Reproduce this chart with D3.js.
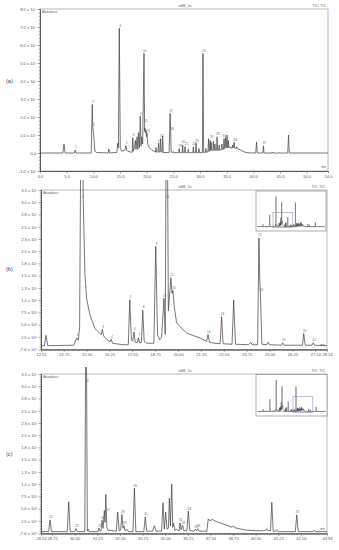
<!DOCTYPE html>
<html><head><meta charset="utf-8">
<script src="https://cdn.jsdelivr.net/npm/d3@7"></script>
<style>body{margin:0;background:#fff}svg{display:block}</style>
</head><body>
<svg id="chart" width="339" height="550"></svg>
<script>
// ---- DATA (time in min, abundance in units of 10^6 counts) ----
const traceA = [[0,0],[4.3,0],[4.5,5],[4.7,0],[6.45,0],[6.6,1.7],[6.75,0],[9.6,0],[9.8,27],[9.9,14],[10.0,12],[10.3,1],[10.6,0.3],[12.75,0],[12.9,2.2],[13.05,0],[14.4,0.3],[14.6,5.5],[14.7,3],[14.87,69.3],[15.05,3],[15.3,1],[15.9,1.5],[16.1,4],[16.3,1.5],[16.5,0.8],[16.7,1],[16.9,0.5],[17.3,0.5],[17.4,8.5],[17.5,1],[17.7,3],[17.9,7],[18.0,2],[18.2,9],[18.35,2],[18.5,11],[18.65,3],[18.8,20.5],[18.95,4],[19.07,9],[19.25,5],[19.5,55.4],[19.62,12],[19.7,13.7],[19.8,11],[19.9,12.5],[20.0,9],[20.06,11],[20.2,5],[20.5,3],[21.0,1.5],[21.5,0.8],[21.65,0.5],[21.75,3],[21.85,0.5],[22.1,0.5],[22.25,5.5],[22.35,0.5],[22.5,0.5],[22.6,8],[22.7,0.5],[22.9,0.5],[23.0,9.5],[23.1,0.3],[24.2,0.2],[24.4,22],[24.5,12],[24.6,0.5],[24.9,0.3],[25.0,0.8],[25.1,0.2],[26.0,0.2],[26.1,2.5],[26.2,0.2],[26.65,0.2],[26.75,4.5],[26.85,0.2],[27.1,0.2],[27.2,3.5],[27.3,0.2],[27.7,0.2],[27.8,2],[27.9,0.2],[28.65,0.2],[28.75,3.5],[28.85,0.2],[29.15,0.2],[29.25,5.5],[29.35,0.2],[29.7,0.2],[29.8,2.5],[29.9,0.2],[30.45,0.2],[30.56,55.4],[30.68,0.3],[31.0,0.3],[31.1,2.5],[31.2,0.5],[31.5,0.6],[31.6,8],[31.7,1],[31.8,1],[31.9,7],[32.0,1.5],[32.1,6],[32.2,1.5],[32.4,1.5],[32.5,6.5],[32.6,1.5],[32.7,1.5],[32.8,5],[32.9,1.5],[33.1,1.5],[33.2,9],[33.3,1.5],[33.5,1.5],[33.6,4.5],[33.7,1.5],[34.0,1.8],[34.1,5],[34.2,2],[34.4,2],[34.5,8],[34.6,2.5],[34.7,2.5],[34.8,8.5],[34.9,3],[35.0,3],[35.06,10],[35.15,3],[35.25,3],[35.3,7],[35.4,3],[35.5,3],[35.6,3.5],[35.7,2.8],[36.0,2.8],[36.1,4.5],[36.2,2.8],[36.3,2.8],[36.4,6],[36.5,2.8],[36.8,2.6],[36.9,3.5],[37.0,2.5],[37.5,1.8],[38.0,1],[38.5,0.4],[39.0,0.1],[40.45,0],[40.6,6],[40.75,0],[41.8,0],[41.9,4],[42.0,0],[43.5,0],[43.6,0.6],[43.7,0],[46.45,0],[46.6,10],[46.75,0],[54,0]];

const traceB = [[12.51,0.7],[12.7,0.7],[12.78,2.8],[12.88,0.7],[14.3,0.8],[14.46,2.3],[14.55,1.8],[14.62,4.4],[14.73,70],[14.82,30],[14.91,15.4],[15.0,10.4],[15.19,6.9],[15.46,4.2],[15.73,3.2],[15.81,3.0],[15.86,4.0],[15.93,2.7],[16.1,2.0],[16.28,1.5],[16.34,2.0],[16.42,1.2],[17.0,0.9],[17.28,0.9],[17.36,10.1],[17.45,1.9],[17.52,1.6],[17.59,3.5],[17.66,1.4],[17.78,1.4],[17.83,2.3],[17.9,1.3],[18.0,1.4],[18.07,8.0],[18.15,1.6],[18.3,1.2],[18.68,1.2],[18.78,21.0],[18.88,2.9],[19.0,1.9],[19.1,2.4],[19.23,10.4],[19.3,3.0],[19.38,70],[19.47,7.8],[19.61,14.6],[19.67,11.4],[19.72,12.0],[19.8,8.4],[19.92,5.4],[20.2,4.2],[20.47,3.3],[20.8,2.8],[21.2,2.3],[21.56,1.6],[21.64,3.0],[21.72,1.4],[22.0,1.2],[22.3,1.1],[22.38,6.6],[22.46,1.1],[22.95,1.0],[23.04,10.0],[23.14,1.0],[23.85,0.9],[23.97,1.4],[24.05,0.9],[24.35,0.9],[24.42,22.7],[24.47,13.4],[24.5,11.6],[24.58,1.0],[24.85,0.9],[24.93,1.4],[25.0,0.9],[25.65,0.8],[25.72,1.3],[25.8,0.8],[26.8,0.8],[26.87,3.2],[26.95,0.8],[27.32,0.8],[27.39,1.3],[27.46,0.8],[28.14,0.7]];

const traceC = [[28.14,0.3],[28.56,0.3],[28.64,2.7],[28.72,0.3],[29.59,0.3],[29.67,6.4],[29.75,0.3],[30.0,0.3],[30.07,0.9],[30.14,0.3],[30.56,0.3],[30.63,55],[30.7,0.4],[30.75,0.8],[30.8,0.3],[31.28,0.3],[31.34,1.0],[31.4,0.4],[31.46,0.5],[31.51,2.6],[31.57,1.0],[31.64,4.6],[31.68,2.2],[31.72,7.9],[31.78,1.2],[31.84,0.6],[32.3,0.4],[32.38,4.3],[32.46,0.5],[32.54,0.6],[32.61,3.8],[32.67,1.0],[32.72,1.5],[32.78,0.5],[32.91,0.7],[32.97,0.3],[33.22,0.3],[33.3,9.2],[33.38,0.3],[33.82,0.3],[33.9,3.3],[33.98,0.4],[34.3,0.4],[34.4,1.5],[34.5,0.4],[34.8,0.4],[34.88,6.2],[34.95,0.8],[35.03,4.3],[35.1,0.8],[35.18,1.0],[35.23,7.1],[35.29,1.5],[35.36,10.0],[35.42,1.2],[35.47,2.0],[35.53,0.6],[35.64,0.8],[35.7,0.5],[35.77,0.5],[35.82,2.1],[35.88,0.7],[35.97,1.6],[36.03,0.5],[36.2,0.5],[36.28,4.5],[36.36,0.5],[36.6,0.4],[36.67,0.8],[36.73,0.5],[36.8,0.9],[36.87,0.4],[37.3,0.4],[37.38,2.9],[37.48,2.5],[37.6,2.8],[37.8,2.4],[38.03,2.1],[38.4,1.6],[38.7,1.2],[38.77,1.5],[38.85,1.1],[39.2,0.8],[39.5,0.6],[40.0,0.5],[40.42,0.5],[40.55,0.6],[40.61,0.9],[40.67,0.5],[40.82,0.5],[40.89,6.3],[40.97,0.4],[41.1,0.4],[41.16,0.7],[41.22,0.3],[42.19,0.3],[42.27,3.75],[42.35,0.3],[43.18,0.3],[43.24,0.6],[43.3,0.3],[43.94,0.3]];

// peak labels: [time, abundance at label, text]
const peaksA = [[6.6,1.7,"1"],[9.8,27,"2"],[9.95,14,"3"],[14.87,69.3,"4"],[16.1,4,"5"],[17.4,8.5,"6"],[18.2,9,"7"],[18.8,20.5,"9"],[19.5,55.4,"10"],[19.75,16.5,"11"],[20.1,11,"13"],[22.25,5.5,"14"],[22.7,8,"15"],[24.4,22,"17"],[24.6,12,"18"],[26.1,2.5,"19"],[26.75,4.5,"20"],[27.35,3.5,"21"],[28.75,3.5,"22"],[29.3,5.5,"23"],[30.56,55.4,"24"],[32.0,7.5,"26"],[33.2,9,"28"],[34.4,8,"30"],[36.4,6,"34"],[41.9,4,"37"]];
const peaksB = [[14.46,2.3,"1"],[14.73,30.5,"2"],[15.86,4.0,"3"],[16.34,2.0,"4"],[17.36,10.1,"5"],[17.59,3.5,"6"],[17.83,2.3,"7"],[18.07,8.0,"8"],[18.78,21.0,"9"],[19.23,10.4,"10"],[19.38,30.5,"11"],[19.61,14.6,"12"],[19.72,12.0,"13"],[21.64,3.0,"14"],[22.38,6.6,"16"],[24.42,22.7,"17"],[24.5,11.6,"18"],[25.72,1.3,"19"],[26.87,3.2,"20"],[27.39,1.3,"21"]];
const peaksC = [[28.64,2.7,"22"],[30.07,0.9,"23"],[30.63,30.5,"24"],[31.34,1.0,"25"],[31.51,2.6,"26"],[31.8,4.3,"27"],[32.61,3.8,"28"],[32.72,1.5,"29"],[33.3,9.2,"30"],[33.9,3.3,"31"],[35.82,2.1,"32"],[35.97,1.6,"33"],[36.28,4.5,"34"],[36.67,0.8,"35"],[36.8,0.9,"36"],[42.27,3.75,"37"]];

// axis ticks and labels
const xTicksA = [0,5,10,15,20,25,30,35,40,45,50,54];
const xLabelsA = ["0.0","5.0","10.0","15.0","20.0","25.0","30.0","35.0","40.0","45.0","50.0","54.0"];
const yTicksA = [-10,0,10,20,30,40,50,60,70,80];
const yLabelsA = ["-1.0 x 10⁷","0.0","1.0 x 10⁷","2.0 x 10⁷","3.0 x 10⁷","4.0 x 10⁷","5.0 x 10⁷","6.0 x 10⁷","7.0 x 10⁷","8.0 x 10⁷"];
const xTicksB = [12.51,13.75,15,16.25,17.5,18.75,20,21.25,22.5,23.75,25,26.25,27.5,28.14];
const xLabelsB = ["12.51","13.75","15.00","16.25","17.50","18.75","20.00","21.25","22.50","23.75","25.00","26.25","27.50","28.14"];
const xTicksC = [28.14,28.75,30,31.25,32.5,33.75,35,36.25,37.5,38.75,40,41.25,42.5,43.94];
const xLabelsC = ["28.14","28.75","30.00","31.25","32.50","33.75","35.00","36.25","37.50","38.75","40.00","41.25","42.50","43.94"];
const yTicksBC = [-0.076,2.5,5,7.5,10,12.5,15,17.5,20,22.5,25,27.5,30,32.5];
const yLabelsBC = ["-7.6 x 10⁴","2.5 x 10⁶","5.0 x 10⁶","7.5 x 10⁶","1.0 x 10⁷","1.3 x 10⁷","1.5 x 10⁷","1.8 x 10⁷","2.0 x 10⁷","2.3 x 10⁷","2.5 x 10⁷","2.8 x 10⁷","3.0 x 10⁷","3.3 x 10⁷"];
const runTitle = "vdW_1a";
const signalTitle = "TIC: TIC";
const panelNames = ["(a)","(b)","(c)"];

// ---- DRAWING ----
const FONT = "'Liberation Sans', Arial, Helvetica, sans-serif";
const svg = d3.select("#chart");
const defs = svg.append("defs");
const TXT = "#5a5a5a";

function styleAxis(g, fs){
  g.select(".domain").attr("stroke","#555").attr("stroke-width",0.8);
  g.selectAll(".tick line").attr("stroke","#666").attr("stroke-width",0.5);
  g.selectAll("text").attr("fill",TXT).style("font-family",FONT).style("font-size",fs+"px");
}

function drawPanel(p){
  const x = d3.scaleLinear().domain(p.xDomain).range([p.left,p.right]);
  const y = d3.scaleLinear().domain(p.yDomain).range([p.bottom,p.top]);
  const g = svg.append("g");
  g.append("rect").attr("x",p.left).attr("y",p.top).attr("width",p.right-p.left).attr("height",p.bottom-p.top)
    .attr("fill","none").attr("stroke","#8a8a8a").attr("stroke-width",0.6);
  const yMinor = d3.axisLeft(y).tickValues(d3.range(p.yMinor[0],p.yDomain[1]+1e-9,p.yMinor[1])).tickFormat("").tickSize(1.3).tickSizeOuter(0);
  g.append("g").attr("transform",`translate(${p.left},0)`).call(yMinor).call(s=>styleAxis(s,4));
  const xMinor = d3.axisBottom(x).tickValues(d3.range(p.xMinor[0],p.xDomain[1]+1e-9,p.xMinor[1])).tickFormat("").tickSize(1.3).tickSizeOuter(0);
  g.append("g").attr("transform",`translate(0,${p.bottom})`).call(xMinor).call(s=>styleAxis(s,4));
  const yAxis = d3.axisLeft(y).tickValues(p.yTicks).tickFormat((d,i)=>p.yLabels[i]).tickSize(2.6).tickPadding(1.2).tickSizeOuter(0);
  g.append("g").attr("transform",`translate(${p.left},0)`).call(yAxis).call(s=>styleAxis(s,4.1));
  const xAxis = d3.axisBottom(x).tickValues(p.xTicks).tickFormat((d,i)=>p.xLabels[i]).tickSize(2.6).tickPadding(1).tickSizeOuter(0);
  g.append("g").attr("transform",`translate(0,${p.bottom})`).call(xAxis).call(s=>styleAxis(s,4.1));
  const id = "clip"+p.id;
  defs.append("clipPath").attr("id",id).append("rect")
    .attr("x",p.left).attr("y",p.top-p.over).attr("width",p.right-p.left).attr("height",p.bottom-p.top+p.over);
  g.append("path").datum(p.trace).attr("clip-path",`url(#${id})`)
    .attr("d",d3.line().x(d=>x(d[0])).y(d=>y(d[1])))
    .attr("fill","none").attr("stroke","#404040").attr("stroke-width",0.72).attr("stroke-linejoin","round");
  g.selectAll(null).data(p.peaks).join("text")
    .attr("x",d=>x(d[0])+0.8).attr("y",d=>Math.max(y(d[1])-1.5,p.top+3))
    .attr("text-anchor","middle").attr("fill","#6a6a6a").style("font-family",FONT).style("font-size","3.2px")
    .text(d=>d[2]);
  const t = (tx,ty,s,anchor,fs,fill)=>svg.append("text").attr("x",tx).attr("y",ty).attr("text-anchor",anchor)
      .attr("fill",fill||TXT).style("font-family",FONT).style("font-size",fs+"px").text(s);
  t((p.left+p.right)/2+1,p.top-2,runTitle,"middle",3.6);
  t(p.right-2,p.top-2,signalTitle,"end",3.6);
  t(p.left+2,p.top+4,"Abundance","start",3);
  t(p.right-2,p.bottom-3.5,"min","end",3);
  t(6,p.labelY,p.name,"start",5.6,"#444");
}

function drawInset(box, hi){
  const g = svg.append("g");
  g.append("rect").attr("x",box.x0).attr("y",box.y0).attr("width",box.x1-box.x0).attr("height",box.y1-box.y0)
    .attr("fill","#fff").attr("stroke","#777").attr("stroke-width",0.6);
  const mx = d3.scaleLinear().domain([0,54]).range([box.x0+1.5,box.x1-1.5]);
  const my = d3.scaleLinear().domain([-10,80]).range([box.y1,box.y0+0.7]);
  g.append("line").attr("x1",box.x0+1).attr("x2",box.x1-1).attr("y1",my(0)).attr("y2",my(0)).attr("stroke","#777").attr("stroke-width",0.5);
  g.append("path").datum(traceA).attr("d",d3.line().x(d=>mx(d[0])).y(d=>my(d[1])))
    .attr("fill","none").attr("stroke","#444").attr("stroke-width",0.45);
  g.append("rect").attr("x",mx(hi.x0)).attr("y",my(hi.y1)).attr("width",mx(hi.x1)-mx(hi.x0)).attr("height",my(hi.y0)-my(hi.y1))
    .attr("fill","none").attr("stroke","#8c90c4").attr("stroke-width",0.6);
}

drawPanel({id:"a",name:panelNames[0],left:40,right:328,top:9,bottom:171,over:0,labelY:83,
  xDomain:[0,54],yDomain:[-10,80],xTicks:xTicksA,xLabels:xLabelsA,yTicks:yTicksA,yLabels:yLabelsA,
  xMinor:[0,1],yMinor:[-10,2],trace:traceA,peaks:peaksA});
drawPanel({id:"b",name:panelNames[1],left:41,right:327,top:190,bottom:349.5,over:10,labelY:271,
  xDomain:[12.51,28.14],yDomain:[-0.076,32.5],xTicks:xTicksB,xLabels:xLabelsB,yTicks:yTicksBC,yLabels:yLabelsBC,
  xMinor:[12.75,0.25],yMinor:[0,0.5],trace:traceB,peaks:peaksB});
drawPanel({id:"c",name:panelNames[2],left:41,right:327,top:374,bottom:533.5,over:7,labelY:456,
  xDomain:[28.14,43.94],yDomain:[-0.076,32.5],xTicks:xTicksC,xLabels:xLabelsC,yTicks:yTicksBC,yLabels:yLabelsBC,
  xMinor:[28.25,0.25],yMinor:[0,0.5],trace:traceC,peaks:peaksC});

drawInset({x0:256,x1:326,y0:191,y1:231},{x0:12.51,x1:28.14,y0:-2,y1:32.5});
drawInset({x0:256,x1:327,y0:374.5,y1:416},{x0:28.14,x1:43.94,y0:-2,y1:32.5});
</script>
</body></html>
